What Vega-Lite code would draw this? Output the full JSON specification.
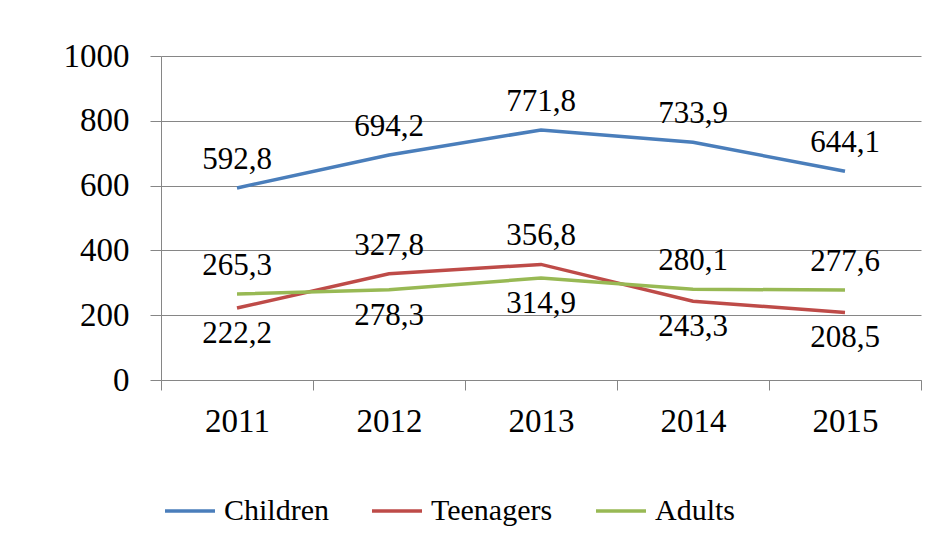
{
  "$schema": "https://vega.github.io/schema/vega-lite/v6.json",
  "width": 760,
  "height": 324,
  "autosize": {"type": "none"},
  "padding": {"left": 161, "top": 56, "right": 28, "bottom": 165},
  "background": "white",
  "config": {
    "view": {"stroke": null},
    "font": "Liberation Serif, Times New Roman, serif",
    "locale": {"number": {"decimal": ",", "thousands": " ", "grouping": [3], "currency": ["", ""]}}
  },
  "data": {
    "values": [
      {"year": "2011", "series": "Children", "value": 592.8},
      {"year": "2012", "series": "Children", "value": 694.2},
      {"year": "2013", "series": "Children", "value": 771.8},
      {"year": "2014", "series": "Children", "value": 733.9},
      {"year": "2015", "series": "Children", "value": 644.1},
      {"year": "2011", "series": "Teenagers", "value": 222.2},
      {"year": "2012", "series": "Teenagers", "value": 327.8},
      {"year": "2013", "series": "Teenagers", "value": 356.8},
      {"year": "2014", "series": "Teenagers", "value": 243.3},
      {"year": "2015", "series": "Teenagers", "value": 208.5},
      {"year": "2011", "series": "Adults", "value": 265.3},
      {"year": "2012", "series": "Adults", "value": 278.3},
      {"year": "2013", "series": "Adults", "value": 314.9},
      {"year": "2014", "series": "Adults", "value": 280.1},
      {"year": "2015", "series": "Adults", "value": 277.6}
    ]
  },
  "encoding": {
    "x": {
      "field": "year", "type": "ordinal", "bandPosition": 0.5,
      "scale": {"type": "band", "paddingInner": 0, "paddingOuter": 0},
      "axis": {
        "title": null, "labelAngle": 0, "tickBand": "extent", "grid": false,
        "domainColor": "#868686", "tickColor": "#868686", "tickSize": 10,
        "labelFontSize": 33, "labelColor": "black", "labelPadding": 15,
        "labelFont": "Liberation Serif, Times New Roman, serif"
      }
    },
    "y": {
      "field": "value", "type": "quantitative",
      "scale": {"domain": [0, 1000]},
      "axis": {
        "title": null, "values": [0, 200, 400, 600, 800, 1000], "format": "d",
        "grid": true, "gridColor": "#868686", "gridWidth": 1,
        "domainColor": "#868686", "tickColor": "#868686", "tickSize": 11,
        "labelFontSize": 33, "labelColor": "black", "labelPadding": 21,
        "labelFont": "Liberation Serif, Times New Roman, serif"
      }
    }
  },
  "layer": [
    {
      "mark": {"type": "line", "strokeWidth": 3.5},
      "encoding": {
        "color": {
          "field": "series", "type": "nominal",
          "scale": {"domain": ["Children", "Teenagers", "Adults"], "range": ["#4A7EBB", "#BE4B48", "#98B954"]},
          "legend": {
            "title": null, "orient": "none", "direction": "horizontal",
            "legendX": 2, "legendY": 428,
            "symbolType": "stroke", "symbolSize": 2500, "symbolStrokeWidth": 3.5,
            "labelFontSize": 30, "labelFont": "Liberation Serif, Times New Roman, serif", "labelColor": "black",
            "labelOffset": 7, "columnPadding": 36, "labelLimit": 400
          }
        }
      }
    },
    {
      "transform": [{"filter": "datum.series === 'Children' || (datum.series === 'Teenagers' && (datum.year === '2012' || datum.year === '2013')) || (datum.series === 'Adults' && (datum.year === '2011' || datum.year === '2014' || datum.year === '2015'))"}],
      "mark": {"type": "text", "baseline": "middle", "dy": -28, "fontSize": 31, "font": "Liberation Serif, Times New Roman, serif", "color": "black"},
      "encoding": {"text": {"field": "value", "type": "quantitative", "format": ".1f"}}
    },
    {
      "transform": [{"filter": "(datum.series === 'Teenagers' && (datum.year === '2011' || datum.year === '2014' || datum.year === '2015')) || (datum.series === 'Adults' && (datum.year === '2012' || datum.year === '2013'))"}],
      "mark": {"type": "text", "baseline": "middle", "dy": 26, "fontSize": 31, "font": "Liberation Serif, Times New Roman, serif", "color": "black"},
      "encoding": {"text": {"field": "value", "type": "quantitative", "format": ".1f"}}
    }
  ]
}
